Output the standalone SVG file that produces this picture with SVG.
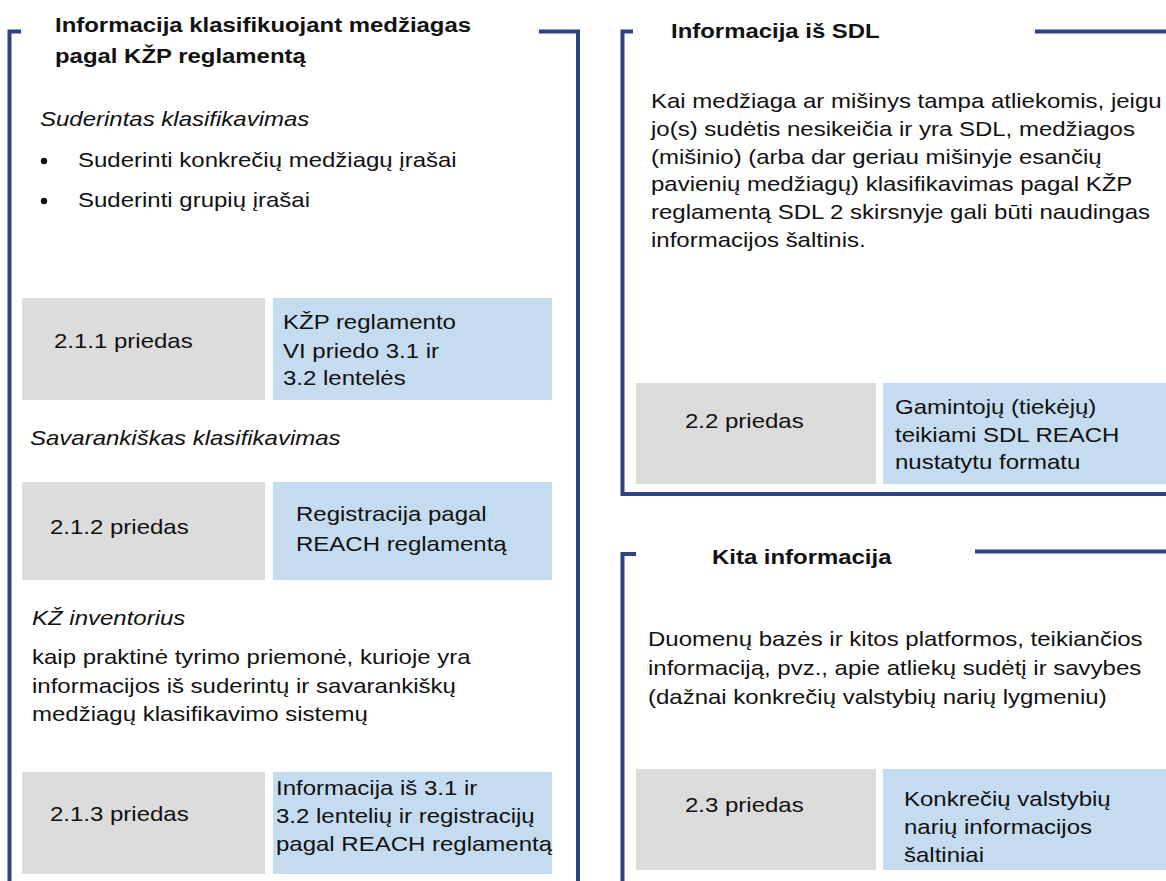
<svg xmlns="http://www.w3.org/2000/svg" width="1166" height="881" viewBox="0 0 1166 881">
<style>
.fr{fill:none;stroke:#2E4284;stroke-width:4}
.g{fill:#DCDCDC}
.b{fill:#C5DBEF}
text{font-family:"Liberation Sans",Arial,sans-serif;font-size:20px;fill:#111}
.t{font-weight:bold;font-size:21px}
.i{font-style:italic}
</style>
<rect width="1166" height="881" fill="#fff"/>
<g id="frames">
<path class="fr" d="M21,31.5 H9.5 V881"/>
<path class="fr" d="M539,31.5 H578 V881"/>
<path class="fr" d="M633,31.5 H622.5 V494 H1166"/>
<path class="fr" d="M1035,31.5 H1166"/>
<path class="fr" d="M636,554 H622.5 V881"/>
<path class="fr" d="M975,551.5 H1166"/>
</g>
<g id="panel-klp">
<text class="t" transform="translate(55,32) scale(1.14,1)">Informacija klasifikuojant medžiagas</text>
<text class="t" transform="translate(55,63) scale(1.14,1)">pagal KŽP reglamentą</text>
<text class="i" transform="translate(40,126) scale(1.2,1)">Suderintas klasifikavimas</text>
<circle cx="44" cy="161" r="3.2" fill="#111"/>
<text transform="translate(78,167) scale(1.2,1)">Suderinti konkrečių medžiagų įrašai</text>
<circle cx="44" cy="201" r="3.2" fill="#111"/>
<text transform="translate(78,207) scale(1.2,1)">Suderinti grupių įrašai</text>
<text class="i" transform="translate(30,445) scale(1.2,1)">Savarankiškas klasifikavimas</text>
<text class="i" transform="translate(32,625) scale(1.2,1)">KŽ inventorius</text>
<text transform="translate(32,664) scale(1.2,1)">kaip praktinė tyrimo priemonė, kurioje yra</text>
<text transform="translate(32,693) scale(1.2,1)">informacijos iš suderintų ir savarankiškų</text>
<text transform="translate(32,721) scale(1.2,1)">medžiagų klasifikavimo sistemų</text>
</g>
<g id="box-211">
<rect class="g" x="22" y="298" width="243" height="102"/>
<text transform="translate(54,348) scale(1.2,1)">2.1.1 priedas</text>
</g>
<g id="box-211-info">
<rect class="b" x="273" y="298" width="279" height="102"/>
<text transform="translate(283,329) scale(1.2,1)">KŽP reglamento</text>
<text transform="translate(283,358) scale(1.2,1)">VI priedo 3.1 ir</text>
<text transform="translate(283,385) scale(1.2,1)">3.2 lentelės</text>
</g>
<g id="box-212">
<rect class="g" x="22" y="482" width="243" height="98"/>
<text transform="translate(50,534) scale(1.2,1)">2.1.2 priedas</text>
</g>
<g id="box-212-info">
<rect class="b" x="273" y="482" width="279" height="98"/>
<text transform="translate(296,521) scale(1.2,1)">Registracija pagal</text>
<text transform="translate(296,551) scale(1.2,1)">REACH reglamentą</text>
</g>
<g id="box-213">
<rect class="g" x="22" y="772" width="243" height="102"/>
<text transform="translate(50,821) scale(1.2,1)">2.1.3 priedas</text>
</g>
<g id="box-213-info">
<rect class="b" x="273" y="772" width="279" height="102"/>
<text transform="translate(276,795) scale(1.2,1)">Informacija iš 3.1 ir</text>
<text transform="translate(276,823) scale(1.2,1)">3.2 lentelių ir registracijų</text>
<text transform="translate(276,851) scale(1.2,1)">pagal REACH reglamentą</text>
</g>
<g id="panel-sdl">
<text class="t" transform="translate(671,38) scale(1.14,1)">Informacija iš SDL</text>
<text transform="translate(651,108) scale(1.2,1)">Kai medžiaga ar mišinys tampa atliekomis, jeigu</text>
<text transform="translate(651,136) scale(1.2,1)">jo(s) sudėtis nesikeičia ir yra SDL, medžiagos</text>
<text transform="translate(651,164) scale(1.2,1)">(mišinio) (arba dar geriau mišinyje esančių</text>
<text transform="translate(651,191) scale(1.2,1)">pavienių medžiagų) klasifikavimas pagal KŽP</text>
<text transform="translate(651,219) scale(1.2,1)">reglamentą SDL 2 skirsnyje gali būti naudingas</text>
<text transform="translate(651,247) scale(1.2,1)">informacijos šaltinis.</text>
</g>
<g id="box-22">
<rect class="g" x="636" y="383" width="240" height="101"/>
<text transform="translate(685,428) scale(1.2,1)">2.2 priedas</text>
</g>
<g id="box-22-info">
<rect class="b" x="883" y="383" width="283" height="101"/>
<text transform="translate(895,414) scale(1.2,1)">Gamintojų (tiekėjų)</text>
<text transform="translate(895,442) scale(1.2,1)">teikiami SDL REACH</text>
<text transform="translate(895,469) scale(1.2,1)">nustatytu formatu</text>
</g>
<g id="panel-kita">
<text class="t" transform="translate(712,564) scale(1.14,1)">Kita informacija</text>
<text transform="translate(648,646) scale(1.2,1)">Duomenų bazės ir kitos platformos, teikiančios</text>
<text transform="translate(648,675) scale(1.2,1)">informaciją, pvz., apie atliekų sudėtį ir savybes</text>
<text transform="translate(648,704) scale(1.2,1)">(dažnai konkrečių valstybių narių lygmeniu)</text>
</g>
<g id="box-23">
<rect class="g" x="636" y="769" width="240" height="101"/>
<text transform="translate(685,812) scale(1.2,1)">2.3 priedas</text>
</g>
<g id="box-23-info">
<rect class="b" x="883" y="769" width="283" height="101"/>
<text transform="translate(904,806) scale(1.2,1)">Konkrečių valstybių</text>
<text transform="translate(904,834) scale(1.2,1)">narių informacijos</text>
<text transform="translate(904,862) scale(1.2,1)">šaltiniai</text>
</g>
<g id="connectors"></g>
</svg>
